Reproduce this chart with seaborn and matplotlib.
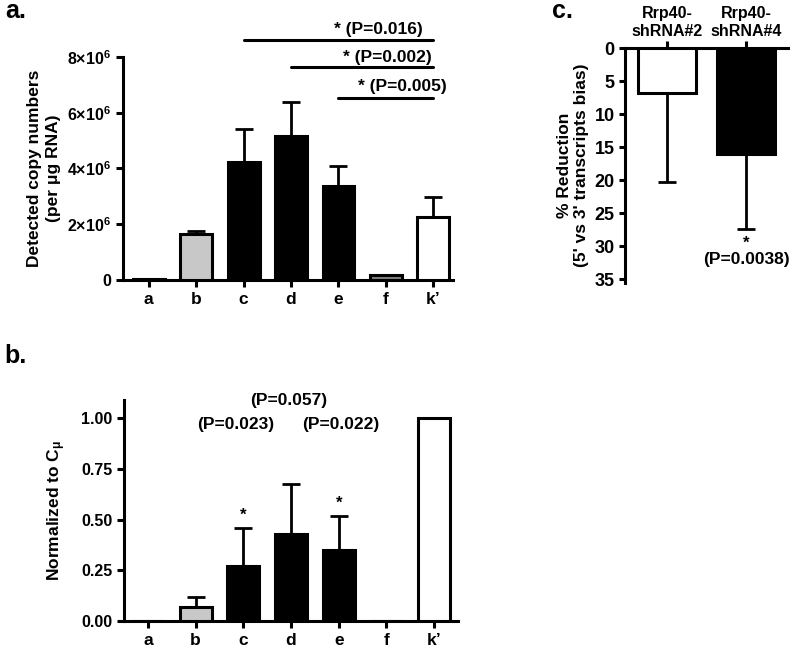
import matplotlib
matplotlib.use('Agg')
import matplotlib.pyplot as plt
import seaborn as sns
import numpy as np
from matplotlib.ticker import FixedLocator, FuncFormatter

# panel a / b categories
groups = ['a', 'b', 'c', 'd', 'e', 'f', 'k’']
bar_colors = ['white', '#c8c8c8', 'black', 'black', 'black', '#808080', 'white']

copy_mean = [0.02e6, 1.64e6, 4.23e6, 5.18e6, 3.38e6, 0.16e6, 2.27e6]
copy_upper = [0.02e6, 1.77e6, 5.42e6, 6.40e6, 4.10e6, 0.19e6, 2.99e6]

norm_mean = [0.0, 0.07, 0.27, 0.43, 0.35, 0.0, 1.0]
norm_upper = [0.0, 0.12, 0.46, 0.675, 0.52, 0.0, 1.0]

# panel c
shrna = ['Rrp40-\nshRNA#2', 'Rrp40-\nshRNA#4']
shrna_colors = ['white', 'black']
reduction_mean = [6.8, 16.0]
reduction_upper = [20.2, 27.4]

sns.set_style('ticks')
plt.rcParams['font.family'] = ['Liberation Sans', 'DejaVu Sans']
plt.rcParams['font.weight'] = 'bold'
plt.rcParams['axes.labelweight'] = 'bold'
for k in ['text.color', 'axes.labelcolor', 'xtick.color', 'ytick.color',
          'axes.edgecolor']:
    plt.rcParams[k] = 'black'
plt.rcParams['mathtext.fontset'] = 'custom'
plt.rcParams['mathtext.rm'] = 'Liberation Sans:bold'
plt.rcParams['mathtext.bf'] = 'Liberation Sans:bold'
plt.rcParams['mathtext.it'] = 'Liberation Sans:bold'

LW = 2.2


def style_axis(ax):
    for s in ['left', 'bottom', 'top', 'right']:
        ax.spines[s].set_linewidth(LW)
    ax.tick_params(width=LW, length=5, labelsize=11.5, colors='black')
    ax.tick_params(axis='x', labelsize=12.5)
    for lab in ax.get_xticklabels() + ax.get_yticklabels():
        lab.set_fontweight('bold')


def bars(ax, cats, means, uppers, colors, width):
    sns.barplot(x=cats, y=means, hue=cats, palette=colors, legend=False,
                edgecolor='black', linewidth=LW, width=width, saturation=1,
                ax=ax, zorder=3)
    x = np.arange(len(cats))
    m = np.array(means)
    up = np.array(uppers) - m
    ax.errorbar(x, m, yerr=[np.zeros_like(m), up], fmt='none', ecolor='black',
                elinewidth=2, capsize=6.5, capthick=2, zorder=2)


fig = plt.figure(figsize=(8, 6.48), dpi=100)

# ---- panel a
ax1 = fig.add_axes([0.154, 0.568, 0.4125, 0.344])
bars(ax1, groups, copy_mean, copy_upper, bar_colors, 0.67)
ax1.set_ylim(0, 8e6)
ax1.set_xlim(-0.54, 6.42)
ax1.yaxis.set_major_locator(FixedLocator([0, 2e6, 4e6, 6e6, 8e6]))
ax1.yaxis.set_major_formatter(FuncFormatter(
    lambda v, p: '0' if v == 0 else f'{int(v / 1e6)}×10$^{{6}}$'))
ax1.set_ylabel('Detected copy numbers\n(per μg RNA)', fontsize=12.5,
               labelpad=5, linespacing=1.3)
sns.despine(ax=ax1)
style_axis(ax1)

sig_lines = [(2, 8.6e6, 4.84, 8.99e6, '* (P=0.016)'),
             (3, 7.64e6, 5.03, 7.99e6, '* (P=0.002)'),
             (4, 6.53e6, 5.35, 6.96e6, '* (P=0.005)')]
for x0, yl, xt, yt, txt in sig_lines:
    ax1.plot([x0, 6], [yl, yl], color='black', lw=LW, clip_on=False)
    ax1.text(xt, yt, txt, ha='center', va='center', fontsize=12.5,
             fontweight='bold', clip_on=False)

# ---- panel b
ax2 = fig.add_axes([0.155, 0.0417, 0.4175, 0.341])
bars(ax2, groups, norm_mean, norm_upper, bar_colors, 0.67)
ax2.set_ylim(0, 1.09)
ax2.set_xlim(-0.5, 6.5)
ax2.yaxis.set_major_locator(FixedLocator([0, 0.25, 0.5, 0.75, 1.0]))
ax2.yaxis.set_major_formatter(FuncFormatter(lambda v, p: f'{v:.2f}'))
ax2.set_ylabel('Normalized to C$_{μ}$', fontsize=12.5, labelpad=9)
sns.despine(ax=ax2)
style_axis(ax2)

ax2.text(2, 0.52, '*', ha='center', va='center', fontsize=12)
ax2.text(4, 0.58, '*', ha='center', va='center', fontsize=12)
ax2.text(1.84, 0.97, '(P=0.023)', ha='center', va='center', fontsize=12.5,
         fontweight='bold')
ax2.text(4.05, 0.97, '(P=0.022)', ha='center', va='center', fontsize=12.5,
         fontweight='bold')
ax2.text(2.96, 1.09, '(P=0.057)', ha='center', va='center', fontsize=12.5,
         fontweight='bold', clip_on=False)

# ---- panel c
ax3 = fig.add_axes([0.78125, 0.5639, 0.20375, 0.3616])
bars(ax3, shrna, reduction_mean, reduction_upper, shrna_colors, 0.73)
ax3.set_ylim(35.5, 0)
ax3.set_xlim(-0.53, 1.53)
ax3.xaxis.tick_top()
ax3.yaxis.set_major_locator(FixedLocator(range(0, 40, 5)))
ax3.spines['bottom'].set_visible(False)
ax3.spines['right'].set_visible(False)
ax3.set_ylabel("% Reduction\n(5' vs 3' transcripts bias)", fontsize=12.5,
               labelpad=4)
style_axis(ax3)
ax3.tick_params(axis='y', labelsize=13, length=4)
ax3.tick_params(axis='x', labelsize=11.5, pad=2)
ax3.text(1, 29.5, '*', ha='center', va='center', fontsize=12)
ax3.text(1, 32.0, '(P=0.0038)', ha='center', va='center', fontsize=12.5,
         fontweight='bold')

# panel letters
fig.text(0.006, 0.972, 'a.', fontsize=18, fontweight='bold', va='baseline')
fig.text(0.006, 0.44, 'b.', fontsize=18, fontweight='bold', va='baseline')
fig.text(0.69, 0.972, 'c.', fontsize=18, fontweight='bold', va='baseline')

fig.savefig('out.png', dpi=100)
